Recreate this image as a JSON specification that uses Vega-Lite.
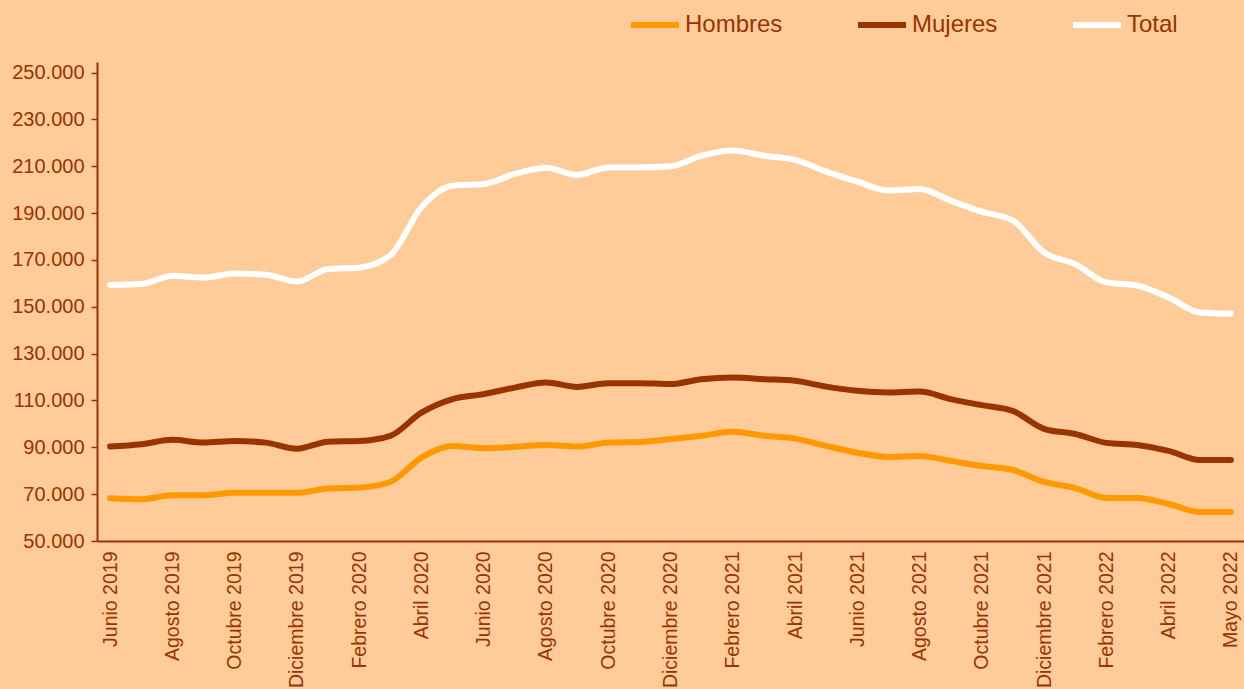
{
  "$schema": "https://vega.github.io/schema/vega-lite/v6.json",
  "autosize": {"type": "none"},
  "padding": {"left": 97, "top": 62, "right": 0, "bottom": 148},
  "width": 1147,
  "height": 479,
  "background": "#FFCC99",
  "config": {"view": {"stroke": null}, "font": "Liberation Sans"},
  "data": {"values": [
    {"mes": "Junio 2019", "Hombres": 68200, "Mujeres": 90300, "Total": 159300},
    {"mes": "Julio 2019", "Hombres": 67800, "Mujeres": 91300, "Total": 159700},
    {"mes": "Agosto 2019", "Hombres": 69500, "Mujeres": 93200, "Total": 163200},
    {"mes": "Septiembre 2019", "Hombres": 69500, "Mujeres": 92000, "Total": 162500},
    {"mes": "Octubre 2019", "Hombres": 70600, "Mujeres": 92700, "Total": 164200},
    {"mes": "Noviembre 2019", "Hombres": 70600, "Mujeres": 92000, "Total": 163700},
    {"mes": "Diciembre 2019", "Hombres": 70600, "Mujeres": 89400, "Total": 160800},
    {"mes": "Enero 2020", "Hombres": 72400, "Mujeres": 92400, "Total": 166100},
    {"mes": "Febrero 2020", "Hombres": 72800, "Mujeres": 92700, "Total": 166700},
    {"mes": "Marzo 2020", "Hombres": 75200, "Mujeres": 94900, "Total": 172000},
    {"mes": "Abril 2020", "Hombres": 85600, "Mujeres": 104800, "Total": 192500},
    {"mes": "Mayo 2020", "Hombres": 90600, "Mujeres": 110600, "Total": 201700},
    {"mes": "Junio 2020", "Hombres": 89600, "Mujeres": 112700, "Total": 202400},
    {"mes": "Julio 2020", "Hombres": 90200, "Mujeres": 115500, "Total": 206700},
    {"mes": "Agosto 2020", "Hombres": 91000, "Mujeres": 117700, "Total": 209300},
    {"mes": "Septiembre 2020", "Hombres": 90300, "Mujeres": 115800, "Total": 206300},
    {"mes": "Octubre 2020", "Hombres": 92000, "Mujeres": 117400, "Total": 209500},
    {"mes": "Noviembre 2020", "Hombres": 92300, "Mujeres": 117400, "Total": 209500},
    {"mes": "Diciembre 2020", "Hombres": 93500, "Mujeres": 117000, "Total": 210000},
    {"mes": "Enero 2021", "Hombres": 94900, "Mujeres": 119100, "Total": 214500},
    {"mes": "Febrero 2021", "Hombres": 96600, "Mujeres": 119800, "Total": 216700},
    {"mes": "Marzo 2021", "Hombres": 94900, "Mujeres": 119100, "Total": 214500},
    {"mes": "Abril 2021", "Hombres": 93700, "Mujeres": 118400, "Total": 212700},
    {"mes": "Mayo 2021", "Hombres": 90600, "Mujeres": 115900, "Total": 207700},
    {"mes": "Junio 2021", "Hombres": 87700, "Mujeres": 114100, "Total": 203400},
    {"mes": "Julio 2021", "Hombres": 85900, "Mujeres": 113400, "Total": 199600},
    {"mes": "Agosto 2021", "Hombres": 86300, "Mujeres": 113800, "Total": 200300},
    {"mes": "Septiembre 2021", "Hombres": 84200, "Mujeres": 110600, "Total": 195300},
    {"mes": "Octubre 2021", "Hombres": 82000, "Mujeres": 108000, "Total": 190600},
    {"mes": "Noviembre 2021", "Hombres": 80300, "Mujeres": 105500, "Total": 186800},
    {"mes": "Diciembre 2021", "Hombres": 75200, "Mujeres": 97900, "Total": 173200},
    {"mes": "Enero 2022", "Hombres": 72600, "Mujeres": 95700, "Total": 168200},
    {"mes": "Febrero 2022", "Hombres": 68400, "Mujeres": 91900, "Total": 160400},
    {"mes": "Marzo 2022", "Hombres": 68400, "Mujeres": 91000, "Total": 159000},
    {"mes": "Abril 2022", "Hombres": 65800, "Mujeres": 88500, "Total": 154000},
    {"mes": "Abril-Mayo 2022", "Hombres": 62400, "Mujeres": 84600, "Total": 147600},
    {"mes": "Mayo 2022", "Hombres": 62400, "Mujeres": 84600, "Total": 147100}
  ]},
  "transform": [{"fold": ["Hombres", "Mujeres", "Total"], "as": ["serie", "valor"]}],
  "mark": {"type": "line", "interpolate": "monotone", "strokeWidth": 6, "strokeCap": "round", "strokeJoin": "round"},
  "encoding": {
    "x": {
      "field": "mes", "type": "ordinal", "sort": null,
      "scale": {"type": "point", "padding": 0.42},
      "axis": {
        "title": null,
        "values": ["Junio 2019", "Agosto 2019", "Octubre 2019", "Diciembre 2019", "Febrero 2020", "Abril 2020", "Junio 2020", "Agosto 2020", "Octubre 2020", "Diciembre 2020", "Febrero 2021", "Abril 2021", "Junio 2021", "Agosto 2021", "Octubre 2021", "Diciembre 2021", "Febrero 2022", "Abril 2022", "Mayo 2022"],
        "labelAngle": -90, "labelAlign": "right", "labelBaseline": "middle",
        "labelColor": "#993300", "labelFontSize": 19.5, "labelPadding": 10,
        "labelOverlap": false, "ticks": false, "grid": false,
        "domainColor": "#993300", "domainWidth": 2
      }
    },
    "y": {
      "field": "valor", "type": "quantitative",
      "scale": {"domain": [50000, 254500], "nice": false, "zero": false},
      "axis": {
        "title": null,
        "values": [50000, 70000, 90000, 110000, 130000, 150000, 170000, 190000, 210000, 230000, 250000],
        "labelExpr": "replace(format(datum.value, ','), ',', '.')",
        "labelColor": "#993300", "labelFontSize": 20, "labelPadding": 7,
        "tickColor": "#993300", "tickSize": 6, "tickWidth": 1.5,
        "domainColor": "#993300", "domainWidth": 2, "grid": false
      }
    },
    "color": {
      "field": "serie", "type": "nominal",
      "scale": {"domain": ["Hombres", "Mujeres", "Total"], "range": ["#FF9900", "#993300", "#FFFFFF"]},
      "legend": {
        "title": null, "orient": "none", "legendX": 531, "legendY": -64,
        "direction": "horizontal", "columns": 3, "padding": 0,
        "symbolType": "stroke", "symbolSize": 2304, "symbolStrokeWidth": 6,
        "labelFontSize": 24, "labelColor": "#993300", "labelOffset": 3,
        "columnPadding": 63
      }
    }
  }
}
